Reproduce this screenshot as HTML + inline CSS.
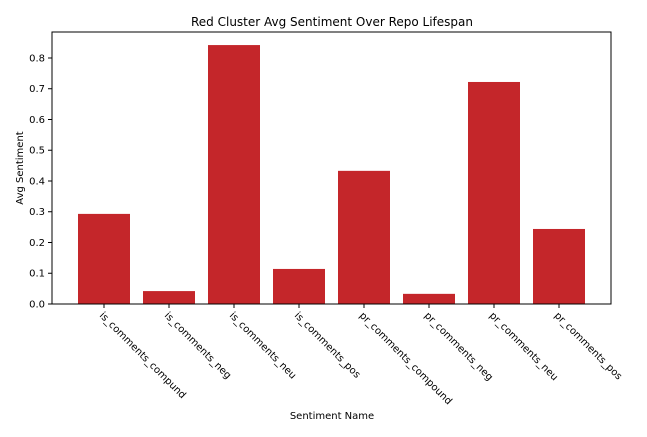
<!DOCTYPE html>
<html><head><meta charset="utf-8"><style>
body{margin:0;background:#fff;}
svg{font-family:"DejaVu Sans","Liberation Sans",sans-serif;}
</style></head><body>
<svg id="chart" width="647" height="432">
<text x="332" y="26" font-size="12" text-anchor="middle">Red Cluster Avg Sentiment Over Repo Lifespan</text>
<text x="332" y="419" font-size="10" text-anchor="middle">Sentiment Name</text>
<text transform="translate(23,168) rotate(-90)" font-size="10" text-anchor="middle">Avg Sentiment</text>
<g id="bars"></g><g id="axes"></g>
<rect x="52" y="32" width="559" height="272" fill="none" stroke="#000" stroke-width="1"/>
</svg>
<script>
const categories=["is_comments_compund","is_comments_neg","is_comments_neu","is_comments_pos","pr_comments_compound","pr_comments_neg","pr_comments_neu","pr_comments_pos"];
const values=[0.293,0.042,0.842,0.114,0.433,0.033,0.722,0.244];
const yTicks=[0.0,0.1,0.2,0.3,0.4,0.5,0.6,0.7,0.8];
const NS="http://www.w3.org/2000/svg";
const L=52,R=611,T=32,B=304;
const xs=i=>L+(i+0.8)/8.6*(R-L);
const ys=v=>B-v/0.8845*(B-T);
const bars=document.getElementById('bars'),axes=document.getElementById('axes');
const bw=0.8/8.6*(R-L);
categories.forEach((c,i)=>{
 const r=document.createElementNS(NS,'rect');
 r.setAttribute('x',xs(i)-bw/2);r.setAttribute('width',bw);
 r.setAttribute('y',ys(values[i]));r.setAttribute('height',B-ys(values[i]));
 r.setAttribute('fill','#c4262a');
 
 
 bars.appendChild(r);
 const t=document.createElementNS(NS,'line');
 t.setAttribute('x1',xs(i));t.setAttribute('x2',xs(i));t.setAttribute('y1',B);t.setAttribute('y2',B+4);t.setAttribute('stroke','#000');
 
 
 axes.appendChild(t);
 const tx=document.createElementNS(NS,'text');
 tx.setAttribute('transform',`translate(${xs(i)-5},${B+12}) rotate(45)`);
 tx.setAttribute('font-size','10');tx.textContent=c;
 
 
 axes.appendChild(tx);
});
yTicks.forEach(v=>{
 const y=ys(v);
 const t=document.createElementNS(NS,'line');
 t.setAttribute('x1',L-4);t.setAttribute('x2',L);t.setAttribute('y1',y);t.setAttribute('y2',y);t.setAttribute('stroke','#000');
 
 
 axes.appendChild(t);
 const tx=document.createElementNS(NS,'text');
 tx.setAttribute('x',L-7);tx.setAttribute('y',y+3.5);tx.setAttribute('font-size','10');tx.setAttribute('text-anchor','end');
 tx.textContent=v.toFixed(1);
 
 
 axes.appendChild(tx);
});
</script>
</body></html>
